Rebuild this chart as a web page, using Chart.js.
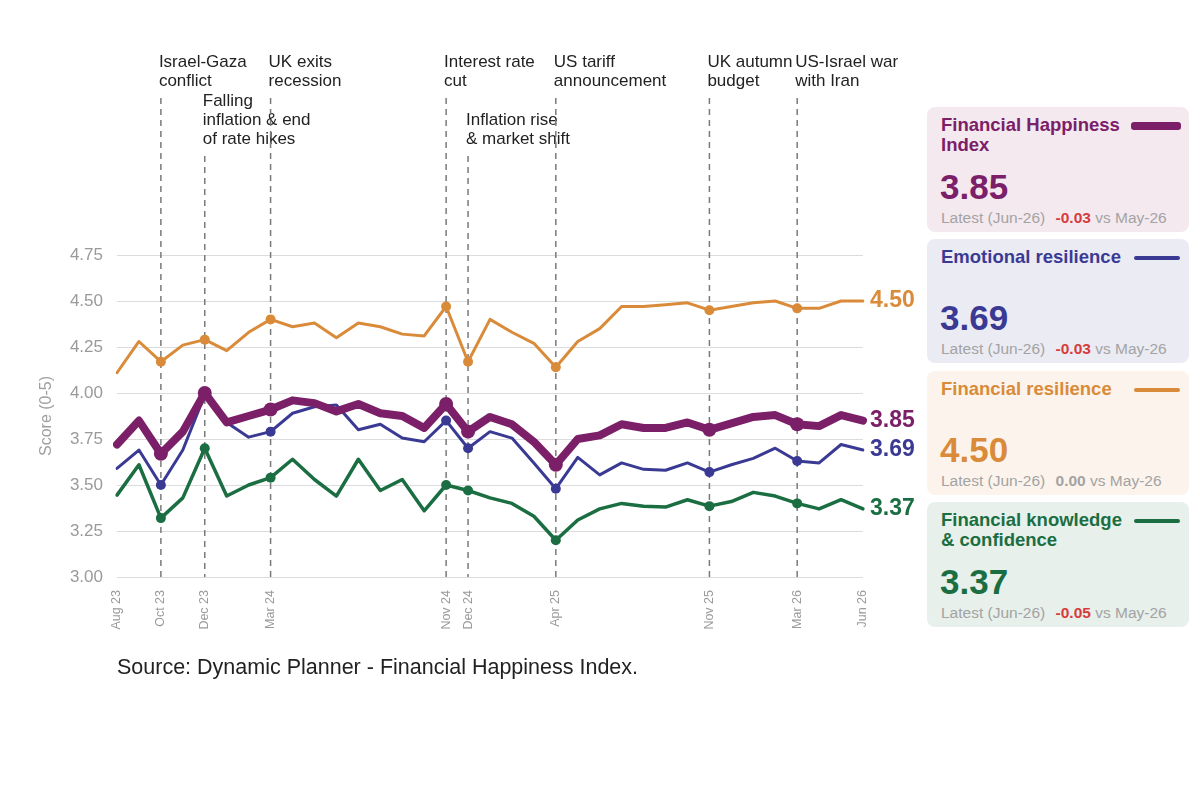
<!DOCTYPE html>
<html>
<head>
<meta charset="utf-8">
<script src="https://cdn.jsdelivr.net/npm/chart.js@4.4.1/dist/chart.umd.min.js"></script>
<style>
  body { margin: 0; background: #fff; font-family: "Liberation Sans", Arial, sans-serif; }
  #wrap { position: relative; width: 1200px; height: 786px; overflow: hidden; }
  #fhi-chart { position: absolute; left: 0; top: 0; }
  .source { position: absolute; left: 117px; top: 655px; font-size: 21.5px; color: #222; }
  .card { position: absolute; left: 927px; width: 262px; border-radius: 8px; }
  .card .ttl { position: absolute; left: 14px; top: 8px; width: 190px; font-size: 18.5px; line-height: 20px; font-weight: bold; }
  .card .swatch { position: absolute; right: 9px; top: 17px; width: 46px; height: 4px; border-radius: 3px; }
  .card .val { position: absolute; left: 13px; bottom: 28px; font-size: 35px; line-height: 1; font-weight: bold; }
  .card .sub { position: absolute; left: 14px; bottom: 7px; font-size: 15.5px; line-height: 1; color: #a3a3a3; white-space: nowrap; }
  .card .sub b { margin-left: 6px; }
  .neg { color: #d63c3c; }
  .zero { color: #a3a3a3; }
</style>
</head>
<body>
<div id="wrap">
  <canvas id="fhi-chart" width="925" height="700"></canvas>
  <div class="source">Source: Dynamic Planner - Financial Happiness Index.</div>

  <div class="card" style="top:107px;height:125px;background:#f4e9ef;">
    <div class="ttl" style="color:#7b2068;">Financial Happiness Index</div>
    <div class="swatch" style="background:#7b2068;height:8px;top:15px;width:50px;right:8px;"></div>
    <div class="val" style="color:#7b2068;">3.85</div>
    <div class="sub">Latest (Jun-26) <b class="neg">-0.03</b> vs May-26</div>
  </div>
  <div class="card" style="top:239px;height:124px;background:#ebebf3;">
    <div class="ttl" style="color:#3a3a94;width:220px;">Emotional resilience</div>
    <div class="swatch" style="background:#3a3a94;"></div>
    <div class="val" style="color:#3a3a94;">3.69</div>
    <div class="sub">Latest (Jun-26) <b class="neg">-0.03</b> vs May-26</div>
  </div>
  <div class="card" style="top:371px;height:124px;background:#fcf4ec;">
    <div class="ttl" style="color:#d98b3a;width:220px;">Financial resilience</div>
    <div class="swatch" style="background:#d98b3a;"></div>
    <div class="val" style="color:#d98b3a;">4.50</div>
    <div class="sub">Latest (Jun-26) <b class="zero">0.00</b> vs May-26</div>
  </div>
  <div class="card" style="top:502px;height:125px;background:#e7f0eb;">
    <div class="ttl" style="color:#1b6e42;">Financial knowledge &amp; confidence</div>
    <div class="swatch" style="background:#1b6e42;"></div>
    <div class="val" style="color:#1b6e42;">3.37</div>
    <div class="sub">Latest (Jun-26) <b class="neg">-0.05</b> vs May-26</div>
  </div>
</div>

<script>
  // monthly labels, Aug 23 .. Jun 26
  const months = [
    "Aug 23", "Sep 23", "Oct 23", "Nov 23", "Dec 23",
    "Jan 24", "Feb 24", "Mar 24", "Apr 24", "May 24", "Jun 24", "Jul 24", "Aug 24", "Sep 24", "Oct 24", "Nov 24", "Dec 24",
    "Jan 25", "Feb 25", "Mar 25", "Apr 25", "May 25", "Jun 25", "Jul 25", "Aug 25", "Sep 25", "Oct 25", "Nov 25", "Dec 25",
    "Jan 26", "Feb 26", "Mar 26", "Apr 26", "May 26", "Jun 26",
  ];
  const shownTicks = ["Aug 23", "Oct 23", "Dec 23", "Mar 24", "Nov 24", "Dec 24", "Apr 25", "Nov 25", "Mar 26", "Jun 26"];

  const happinessIndex = [3.72, 3.85, 3.67, 3.79, 4.00, 3.84, 3.875, 3.91, 3.96, 3.945, 3.90, 3.94, 3.89, 3.875, 3.81, 3.94, 3.79,
    3.87, 3.83, 3.735, 3.61, 3.75, 3.77, 3.83, 3.81, 3.81, 3.84, 3.80, 3.835, 3.87, 3.88, 3.83, 3.82, 3.88, 3.85];
  const emotionalResilience = [3.59, 3.69, 3.50, 3.69, 3.99, 3.84, 3.76, 3.79, 3.89, 3.925, 3.935, 3.80, 3.83, 3.755, 3.735, 3.85, 3.70,
    3.79, 3.755, 3.62, 3.48, 3.65, 3.555, 3.62, 3.585, 3.58, 3.62, 3.57, 3.61, 3.645, 3.70, 3.63, 3.62, 3.72, 3.69];
  const financialResilience = [4.11, 4.28, 4.17, 4.26, 4.29, 4.23, 4.33, 4.40, 4.36, 4.38, 4.30, 4.38, 4.36, 4.32, 4.31, 4.47, 4.17,
    4.40, 4.33, 4.27, 4.14, 4.28, 4.35, 4.47, 4.47, 4.48, 4.49, 4.45, 4.47, 4.49, 4.50, 4.46, 4.46, 4.50, 4.50];
  const knowledgeConfidence = [3.445, 3.61, 3.32, 3.43, 3.70, 3.44, 3.50, 3.54, 3.64, 3.53, 3.44, 3.64, 3.47, 3.53, 3.36, 3.50, 3.47,
    3.43, 3.40, 3.33, 3.20, 3.31, 3.37, 3.40, 3.385, 3.38, 3.42, 3.385, 3.41, 3.46, 3.44, 3.40, 3.37, 3.42, 3.37];

  // events marked with dashed lines
  const eventMonths = ["Oct 23", "Dec 23", "Mar 24", "Nov 24", "Dec 24", "Apr 25", "Nov 25", "Mar 26"];
  const eventText = [
    ["Israel-Gaza", "conflict"],
    ["Falling", "inflation & end", "of rate hikes"],
    ["UK exits", "recession"],
    ["Interest rate", "cut"],
    ["Inflation rise", "& market shift"],
    ["US tariff", "announcement"],
    ["UK autumn", "budget"],
    ["US-Israel war", "with Iran"],
  ];
  // baseline of first text row per event (px)
  const eventTop = [67, 106, 67, 67, 125, 67, 67, 67];

  const FONT = "'Liberation Sans', Arial, sans-serif";

  function radii(r) {
    return months.map((m) => (eventMonths.includes(m) ? r : 0));
  }

  function lineSet(label, data, color, width, r) {
    return {
      label: label,
      data: data,
      borderColor: color,
      backgroundColor: color,
      borderWidth: width,
      pointRadius: radii(r),
      pointHoverRadius: radii(r),
      pointBorderWidth: 0,
      borderJoinStyle: "round",
      borderCapStyle: "round",
      tension: 0,
      fill: false,
    };
  }

  // dashed event lines + labels, value labels at the end of each line
  const eventPlugin = {
    id: "eventPlugin",
    beforeDatasetsDraw(chart) {
      const { ctx, scales: { x, y } } = chart;
      ctx.save();
      eventMonths.forEach((m, i) => {
        const px = x.getPixelForValue(months.indexOf(m));
        const rows = eventText[i];
        ctx.fillStyle = "#222";
        ctx.font = "17px " + FONT;
        ctx.textAlign = "left";
        ctx.textBaseline = "alphabetic";
        rows.forEach((t, k) => ctx.fillText(t, px - 2, eventTop[i] + k * 19));
        ctx.strokeStyle = "#7a7a7a";
        ctx.lineWidth = 1.5;
        ctx.setLineDash([6, 5]);
        ctx.beginPath();
        ctx.moveTo(px, eventTop[i] + (rows.length - 1) * 19 + 12);
        ctx.lineTo(px, y.bottom);
        ctx.stroke();
      });
      ctx.restore();
    },
    afterDatasetsDraw(chart) {
      const { ctx } = chart;
      ctx.save();
      ctx.font = "bold 23px " + FONT;
      ctx.textAlign = "left";
      ctx.textBaseline = "middle";
      chart.data.datasets.forEach((ds, i) => {
        const pts = chart.getDatasetMeta(i).data;
        const last = pts[pts.length - 1];
        ctx.fillStyle = ds.borderColor;
        ctx.fillText(ds.data[ds.data.length - 1].toFixed(2), last.x + 7, last.y);
      });
      ctx.restore();
    },
  };

  const ctx = document.getElementById("fhi-chart").getContext("2d");
  new Chart(ctx, {
    type: "line",
    data: {
      labels: months,
      datasets: [
        lineSet("Financial Happiness Index", happinessIndex, "#7b2068", 8, 7),
        lineSet("Emotional resilience", emotionalResilience, "#3a3a94", 3, 5),
        lineSet("Financial resilience", financialResilience, "#d98b3a", 3, 5),
        lineSet("Financial knowledge & confidence", knowledgeConfidence, "#1b6e42", 3.5, 5),
      ],
    },
    options: {
      responsive: false,
      animation: false,
      layout: { padding: { top: 255, right: 62, bottom: 53, left: 0 } },
      plugins: {
        legend: { display: false },
        tooltip: { enabled: false },
      },
      scales: {
        x: {
          grid: { display: false },
          border: { display: false },
          ticks: {
            autoSkip: false,
            minRotation: 90,
            maxRotation: 90,
            padding: 5,
            color: "#9a9a9a",
            font: { family: FONT, size: 12.5 },
            callback: (v, i) => (shownTicks.includes(months[i]) ? months[i] : ""),
          },
          afterFit: (axis) => { axis.height = 70; },
        },
        y: {
          min: 3,
          max: 4.75,
          grid: { color: "#dcdcdc", drawTicks: false },
          border: { display: false },
          ticks: {
            stepSize: 0.25,
            padding: 14,
            color: "#9a9a9a",
            font: { family: FONT, size: 17 },
            callback: (v) => v.toFixed(2),
          },
          title: {
            display: true,
            text: "Score (0-5)",
            color: "#a0a0a0",
            font: { family: FONT, size: 16 },
            padding: { top: 37, bottom: 0 },
          },
          afterFit: (axis) => { axis.width = 117; },
        },
      },
    },
    plugins: [eventPlugin],
  });
</script>
</body>
</html>
